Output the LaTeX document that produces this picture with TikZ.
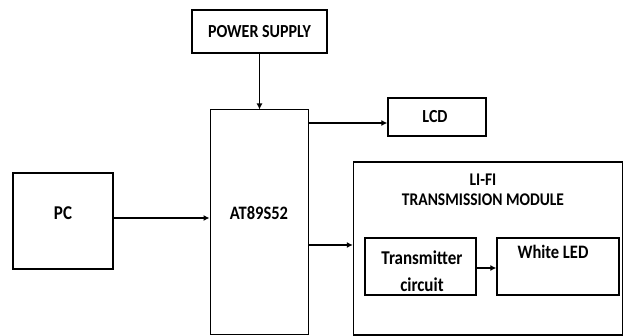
\documentclass[tikz,border=0pt]{standalone}
\usepackage{fontspec}
\setmainfont{Carlito}
\usetikzlibrary{arrows.meta}
\newcommand{\fs}[1]{\bfseries\fontsize{#1}{#1}\selectfont}
\begin{document}
\begin{tikzpicture}[x=1pt,y=-1pt,
  blk/.style={draw,line width=1.3pt,inner sep=0pt},
  lbl/.style={align=center,inner sep=0pt,yscale=1.15,transform shape},
  arr/.style={line width=1.6pt,-{Latex[length=6pt,width=6pt]}}]
\useasboundingbox (0,0) rectangle (624,336);
% boxes
\node[blk,minimum width=135pt,minimum height=43pt] (ps) at (259.5,31.5) {};
\node[lbl,font=\fs{16}] (pst) at (259.5,31.5) {POWER SUPPLY};
\node[blk,line width=1pt,minimum width=98pt,minimum height=225pt] (mcu) at (259,222.5) {};
\node[lbl,font=\fs{16.5}] (mcut) at (259,213) {AT89S52};
\node[blk,minimum width=98pt,minimum height=38pt] (lcd) at (437,117) {};
\node[lbl,font=\fs{16}] (lcdt) at (435,117) {LCD};
\node[blk,minimum width=100pt,minimum height=96pt] (pc) at (63,221) {};
\node[lbl,font=\fs{17}] (pct) at (63,213) {PC};
\node[blk,minimum width=269pt,minimum height=173pt] (mod) at (488,248.5) {};
\node[lbl,font=\fs{15.5}] (modt1) at (483,180) {LI-FI};
\node[lbl,font=\fs{15.5}] (modt2) at (483,200) {TRANSMISSION MODULE};
\node[blk,minimum width=111pt,minimum height=57pt] (tx) at (420.5,266.5) {};
\node[lbl,font=\fs{17}] (txt1) at (422,258) {Transmitter};
\node[lbl,font=\fs{17}] (txt2) at (422,285) {circuit};
\node[blk,minimum width=122pt,minimum height=57pt] (led) at (558,266.5) {};
\node[lbl,font=\fs{16.5}] (ledt) at (553,252) {White LED};
% connectors
\draw[arr] (ps.south) -- (ps.south |- mcu.north);
\draw[arr] (mcu.east |- 0,123) -- (lcd.west |- 0,123);
\draw[arr,line width=1.2pt] (pc.east |- 0,218) -- (mcu.west |- 0,218);
\draw[arr] (mcu.east |- 0,245) -- (mod.west |- 0,245);
\draw[arr] (tx.east |- 0,268) -- (led.west |- 0,268);
\end{tikzpicture}
\end{document}
